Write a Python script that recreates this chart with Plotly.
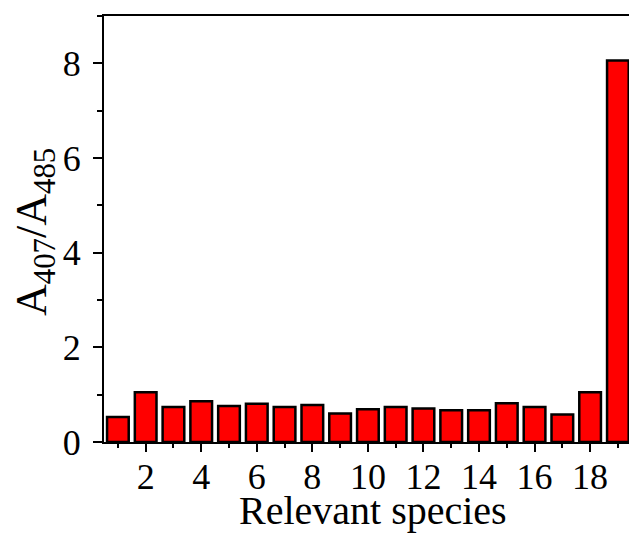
import plotly.graph_objects as go

species = list(range(1, 20))
ratio = [0.53, 1.05, 0.74, 0.86, 0.76, 0.81, 0.74, 0.78, 0.60, 0.69,
         0.74, 0.71, 0.67, 0.67, 0.82, 0.74, 0.58, 1.05, 8.06]
x_tick_vals = [2, 4, 6, 8, 10, 12, 14, 16, 18]
y_tick_vals = [0, 2, 4, 6, 8]

FONT = "Liberation Serif, Times New Roman, serif"

fig = go.Figure()
fig.add_trace(go.Bar(
    x=species, y=ratio, width=0.78,
    marker=dict(color="#FF0000", line=dict(color="black", width=2.5)),
))

fig.update_layout(
    width=629, height=534,
    margin=dict(l=104, r=0, t=16, b=92),
    paper_bgcolor="white", plot_bgcolor="white",
    showlegend=False,
    font=dict(family=FONT, color="black"),
    xaxis=dict(
        range=[0.5, 19.4], tickvals=x_tick_vals,
        ticks="outside", ticklen=8, tickwidth=2, tickcolor="black",
        showline=True, linewidth=2, linecolor="black", mirror=True,
        showgrid=False, zeroline=False, ticklabelstandoff=-6,
        tickfont=dict(family=FONT, size=36, color="black"),
        minor=dict(dtick=1, tick0=0, ticks="outside", ticklen=4, tickwidth=2, tickcolor="black", showgrid=False),
    ),
    yaxis=dict(
        range=[0, 9], tickvals=y_tick_vals,
        ticks="outside", ticklen=9, tickwidth=2, tickcolor="black",
        showline=True, linewidth=2, linecolor="black",
        showgrid=False, zeroline=False, ticklabelstandoff=5,
        tickfont=dict(family=FONT, size=36, color="black"),
        minor=dict(dtick=1, tick0=0, ticks="outside", ticklen=5, tickwidth=2, tickcolor="black", showgrid=False),
    ),
    annotations=[
        dict(text="Relevant species", xref="paper", yref="paper",
             x=(373 - 104) / 525, y=-(535 - 442) / 426, xanchor="center", yanchor="bottom",
             showarrow=False, font=dict(family=FONT, size=40, color="black")),
        dict(text="A<sub>407</sub>/A<sub>485</sub>", xref="paper", yref="paper",
             x=(34 - 104) / 525, y=(442 - 232) / 426, xanchor="center", yanchor="middle",
             textangle=-90, showarrow=False, font=dict(family=FONT, size=44, color="black")),
    ],
)

fig.write_html("out.html", config={"displayModeBar": False},
               post_script="document.body.style.margin='0';document.body.style.overflow='hidden';")
